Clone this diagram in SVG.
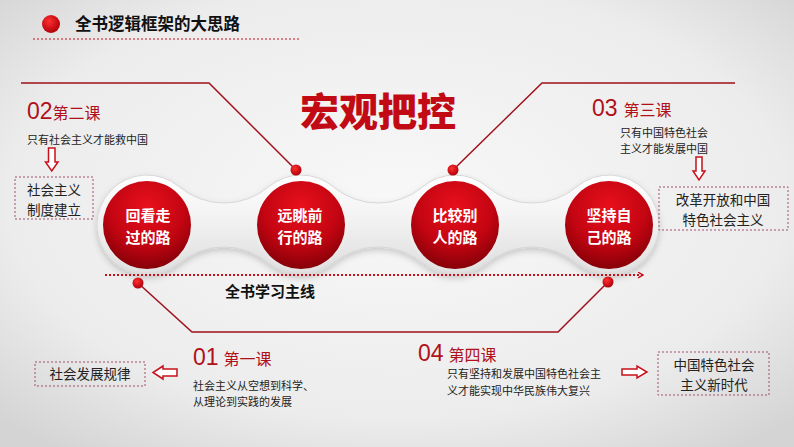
<svg xmlns="http://www.w3.org/2000/svg" width="794" height="447" viewBox="0 0 794 447">
<defs>
<radialGradient id="bg" cx="50%" cy="45%" r="70%">
<stop offset="0" stop-color="#f8f8f8"/><stop offset="0.7" stop-color="#ececec"/><stop offset="1" stop-color="#d4d4d4"/>
</radialGradient>
<linearGradient id="chain" x1="0" y1="0" x2="0" y2="1">
<stop offset="0" stop-color="#ffffff"/><stop offset="0.5" stop-color="#f0f0f0"/><stop offset="1" stop-color="#dcdcdc"/>
</linearGradient>
<linearGradient id="ring" x1="0" y1="0" x2="0" y2="1">
<stop offset="0" stop-color="#ffffff"/><stop offset="1" stop-color="#e2e2e2"/>
</linearGradient>
<radialGradient id="red" cx="50%" cy="30%" r="70%">
<stop offset="0" stop-color="#e8101c"/><stop offset="0.6" stop-color="#c40512"/><stop offset="1" stop-color="#860008"/>
</radialGradient>
<radialGradient id="dot" cx="40%" cy="35%" r="65%">
<stop offset="0" stop-color="#ff3030"/><stop offset="1" stop-color="#b0000a"/>
</radialGradient>
<filter id="sh" x="-10%" y="-20%" width="120%" height="150%">
<feDropShadow dx="0" dy="3" stdDeviation="3" flood-color="#000" flood-opacity="0.18"/>
</filter>
<marker id="arr" viewBox="0 0 10 10" refX="8" refY="5" markerWidth="7" markerHeight="7" markerUnits="userSpaceOnUse" orient="auto">
<path d="M1,1 L8,5 L1,9" fill="none" stroke="#c8101a" stroke-width="2"/>
</marker>
</defs>
<style>
.cn{font-family:"Noto Sans CJK SC","Noto Sans",sans-serif;}
.title{font-family:"Noto Sans CJK SC",sans-serif;font-weight:bold;font-size:16.5px;fill:#111;}
.big{font-family:"Noto Sans CJK SC",sans-serif;font-weight:900;font-size:39px;fill:#c20a14;}
.ct{font-family:"Noto Sans CJK SC",sans-serif;font-weight:bold;font-size:15px;fill:#fff;text-anchor:middle;}
.num{font-family:"Liberation Sans","Noto Sans",sans-serif;font-size:23px;fill:#b0101a;}
.les{font-family:"Noto Sans CJK SC",sans-serif;font-size:16px;fill:#b0101a;}
.small{font-family:"Noto Sans CJK SC",sans-serif;font-size:11px;fill:#222;}
.box{fill:none;stroke:#a0506a;stroke-width:1;stroke-dasharray:2 2;}
.bt{font-family:"Noto Sans CJK SC",sans-serif;font-size:13.5px;fill:#222;text-anchor:middle;}
.ln{fill:none;stroke:#a0101a;stroke-width:1.5;}
.harrow{fill:#fff;stroke:#c8101a;stroke-width:1.5;stroke-linejoin:miter;}
.reddot{fill:url(#dot);}
</style>
<rect width="794" height="447" fill="url(#bg)"/>

<g id="header">
<circle cx="51" cy="24" r="9" fill="url(#dot)"/>
<text class="title" x="75" y="30">全书逻辑框架的大思路</text>
<line x1="33" y1="39" x2="300" y2="39" stroke="#c8101a" stroke-width="1" stroke-dasharray="2 2"/>
</g>

<g id="main-title">
<text class="big" x="378" y="126" text-anchor="middle">宏观把控</text>
</g>

<g id="chain" filter="url(#sh)">
<path d="M179.1,186.7 A69.9,69.9 0 0 0 268.9,186.7 A50,50 0 0 1 333.1,186.7 A69.9,69.9 0 0 0 422.9,186.7 A50,50 0 0 1 487.1,186.7 A69.9,69.9 0 0 0 576.9,186.7 A50,50 0 1 1 576.9,263.3 A69.9,69.9 0 0 0 487.1,263.3 A50,50 0 0 1 422.9,263.3 A69.9,69.9 0 0 0 333.1,263.3 A50,50 0 0 1 268.9,263.3 A69.9,69.9 0 0 0 179.1,263.3 A50,50 0 1 1 179.1,186.7 Z" fill="url(#chain)" stroke="#d6d6d6" stroke-width="1"/>
</g>

<g id="node1">
<circle cx="147" cy="225" r="47" fill="url(#ring)"/>
<circle cx="147" cy="225" r="44" fill="url(#red)"/>
<text class="ct"><tspan x="148" y="221">回看走</tspan><tspan x="148" y="243">过的路</tspan></text>
</g>
<g id="node2">
<circle cx="301" cy="225" r="47" fill="url(#ring)"/>
<circle cx="301" cy="225" r="44" fill="url(#red)"/>
<text class="ct"><tspan x="300" y="221">远眺前</tspan><tspan x="300" y="243">行的路</tspan></text>
</g>
<g id="node3">
<circle cx="455" cy="225" r="47" fill="url(#ring)"/>
<circle cx="455" cy="225" r="44" fill="url(#red)"/>
<text class="ct"><tspan x="455" y="221">比较别</tspan><tspan x="455" y="243">人的路</tspan></text>
</g>
<g id="node4">
<circle cx="609" cy="225" r="47" fill="url(#ring)"/>
<circle cx="609" cy="225" r="44" fill="url(#red)"/>
<text class="ct"><tspan x="609" y="221">坚持自</tspan><tspan x="609" y="243">己的路</tspan></text>
</g>

<g id="connectors">
<polyline class="ln" points="21,83 209,83 296,170"/>
<polyline class="ln" points="453,170 542,83 735,83"/>
<polyline class="ln" points="138,283 192,332 558,332 608,282"/>
<line x1="105" y1="275" x2="643" y2="275" stroke="#c8101a" stroke-width="2" stroke-dasharray="2 2" marker-end="url(#arr)"/>
<circle class="reddot" cx="296" cy="170" r="5.5"/>
<circle class="reddot" cx="453" cy="170" r="5.5"/>
<circle class="reddot" cx="138" cy="283" r="5.5"/>
<circle class="reddot" cx="608" cy="282" r="5.5"/>
</g>

<g id="mainline">
<text class="cn" x="225" y="297" font-size="15" font-weight="bold" fill="#111">全书学习主线</text>
</g>

<g id="lesson2">
<text x="27" y="119"><tspan class="num">02</tspan><tspan class="les">第二课</tspan></text>
<text class="small" x="27" y="144">只有社会主义才能救中国</text>
<path class="harrow" d="M48.5,148 H55 V162 H58 L51.75,171 L45.5,162 H48.5 Z"/>
<rect class="box" x="15" y="177" width="78" height="42"/>
<text class="bt"><tspan x="54" y="195">社会主义</tspan><tspan x="54" y="214.5">制度建立</tspan></text>
</g>

<g id="lesson3">
<text x="592" y="116"><tspan class="num">03</tspan><tspan class="les" dx="6">第三课</tspan></text>
<text class="small"><tspan x="620" y="137">只有中国特色社会</tspan><tspan x="620" y="153">主义才能发展中国</tspan></text>
<path class="harrow" d="M696,157 H702 V171 H705 L699,180 L693,171 H696 Z"/>
<rect class="box" x="659" y="187" width="129" height="43"/>
<text class="bt"><tspan x="723" y="205">改革开放和中国</tspan><tspan x="723" y="224.5">特色社会主义</tspan></text>
</g>

<g id="lesson1">
<text x="193" y="365"><tspan class="num">01</tspan><tspan class="les" dx="5">第一课</tspan></text>
<text class="small"><tspan x="193" y="390">社会主义从空想到科学、</tspan><tspan x="193" y="406">从理论到实践的发展</tspan></text>
<path class="harrow" d="M177,369 H163 V366 L153,372.5 L163,379 V376 H177 Z"/>
<rect class="box" x="35" y="362" width="110" height="24"/>
<text class="bt" x="90" y="379">社会发展规律</text>
</g>

<g id="lesson4">
<text x="418" y="361"><tspan class="num">04</tspan><tspan class="les" dx="5">第四课</tspan></text>
<text class="small"><tspan x="447" y="378">只有坚持和发展中国特色社会主</tspan><tspan x="447" y="395">义才能实现中华民族伟大复兴</tspan></text>
<path class="harrow" d="M622,369 H637 V366 L647,372 L637,378 V375 H622 Z"/>
<rect class="box" x="658" y="352" width="111" height="43"/>
<text class="bt"><tspan x="714" y="370">中国特色社会</tspan><tspan x="714" y="389.5">主义新时代</tspan></text>
</g>
</svg>
